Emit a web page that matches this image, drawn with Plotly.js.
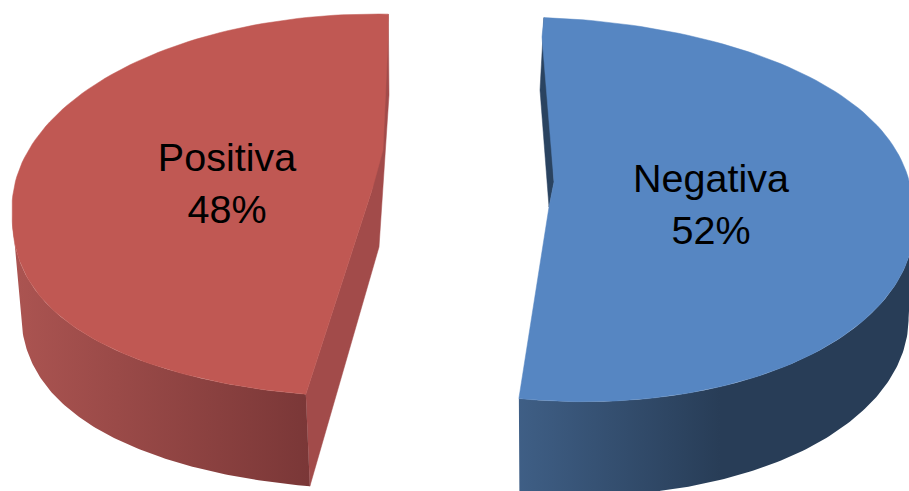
<!DOCTYPE html>
<html><head><meta charset="utf-8">
<script src="https://cdn.plot.ly/plotly-3.0.1.min.js"></script>
<style>html,body{margin:0;padding:0;background:#fff;overflow:hidden}#c{width:909px;height:491px}</style>
</head><body><div id="c"></div>
<script>
const categories = ['Positiva', 'Negativa'];
const values = [48, 52];
const croppedTitleTail = 'g';   // only the descender of the cropped title's last visible letter remains in the picture

// Drawing geometry (pixel-like axis units), separate from the data
const W = 909, H = 491;
const geometry = {
  Positiva: {cx:375, cy:208, rx:363, ryBack:194, ryFront:189, skew:0, powBack:1, powFront:.8, start:191, warp:-1.7, depth:92, bottomScale:.985, bottomDx:3,
    wall:[191,270], innerTop:[[388,40],[383,150],[372,190]], cutBottom:[[379,247],[389,95]],
    top:'#c05853', cut:'#a24b4a', side:['#ab5451','#7a3737'], gradX:[15,310], label:[227,187]},
  Negativa: {cx:554, cy:208, rx:360, ryBack:190, ryFront:193, skew:.045, powBack:.82, powFront:1, start:-1.6, warp:0, depth:94, bottomScale:.985, bottomDx:0,
    wall:[90,185.6], innerTop:[[549,207],[554,182],[542,37]], cutBottom:[[549,207],[540,90]],
    top:'#5686c2', cut:'#2a4360', side:['#3f5f86','#283d57'], gradX:[516,720], label:[711,208]}
};
const total = values.reduce((a,b)=>a+b,0);
const rad = d => d*Math.PI/180;

function rimPoint(g, deg, level){
  const d = deg + g.warp*(1+Math.cos(rad(deg)))/2;
  const s = Math.sin(rad(d)), c = Math.cos(rad(d));
  const k = level ? g.bottomScale : 1;
  const xs = g.rx*k*s;
  const shaped = Math.sign(c)*Math.pow(Math.abs(c), c>0 ? g.powBack : g.powFront);
  const y = g.cy - (c>0 ? g.ryBack : g.ryFront)*shaped + g.skew*xs + (level ? g.depth : 0);
  return [g.cx + xs + (level ? g.bottomDx : 0), y];
}
function arc(g, a0, a1, level){
  const pts=[], n=120;
  for(let i=0;i<=n;i++) pts.push(rimPoint(g, a0+(a1-a0)*i/n, level));
  return pts;
}
function poly(pts, color, name, grad){
  const tr = {type:'scatter', mode:'lines', x:pts.map(p=>p[0]).concat(pts[0][0]), y:pts.map(p=>p[1]).concat(pts[0][1]),
    fill:'toself', fillcolor:color, line:{width:0.5,color:color}, hoverinfo:'skip', showlegend:false, name:name};
  if(grad){
    tr.fillgradient = {type:'horizontal', start:grad.x[0], stop:grad.x[1], colorscale:[[0,grad.c[0]],[1,grad.c[1]]]};
    tr.line = {width:0};
  }
  return tr;
}

const traces = [];
categories.forEach((cat,i)=>{
  const g = geometry[cat];
  const sweep = values[i]/total*360;   // each slice's sweep comes from its value
  const a0 = g.start, a1 = g.start + sweep;
  const first = rimPoint(g,a0,0), last = rimPoint(g,a1,0);
  // slice cut faces
  const cutPts = cat==='Negativa'
    ? [first, g.cutBottom[1], g.cutBottom[0], g.innerTop[1]]
    : [first, rimPoint(g,a0,1), g.cutBottom[0], g.cutBottom[1], last, g.innerTop[2]];
  traces.push(poly(cutPts, g.cut, cat+' cut'));
  // outer wall
  const wall = arc(g,g.wall[0],g.wall[1],0).concat(arc(g,g.wall[0],g.wall[1],1).reverse());
  traces.push(poly(wall, g.side[0], cat+' wall', {x:g.gradX, c:g.side}));
  // top face
  traces.push(poly(arc(g,a0,a1,0).concat(g.innerTop), g.top, cat+' top'));
});
// value labels
traces.push({type:'scatter', mode:'text', x:categories.map(c=>geometry[c].label[0]), y:categories.map(c=>geometry[c].label[1]),
  text:categories.map((c,i)=>c+'<br>'+values[i]+'%'), textposition:'middle center',
  textfont:{family:'Liberation Sans, Arial, sans-serif', size:39.5, color:'#000'}, hoverinfo:'skip', showlegend:false, cliponaxis:false});

Plotly.newPlot('c', traces, {
  width:W, height:H, margin:{l:0,r:0,t:0,b:0}, paper_bgcolor:'#fff', plot_bgcolor:'#fff', showlegend:false,
  xaxis:{range:[0,W], visible:false, fixedrange:true},
  yaxis:{range:[H,0], visible:false, fixedrange:true},
  annotations:[{text:croppedTitleTail, xref:'x', yref:'y', x:659, y:-17, xanchor:'center', yanchor:'middle', showarrow:false,
    font:{family:'Liberation Sans, Arial, sans-serif', size:28, color:'#000'}}]
}, {displayModeBar:false, staticPlot:true});
</script></body></html>
